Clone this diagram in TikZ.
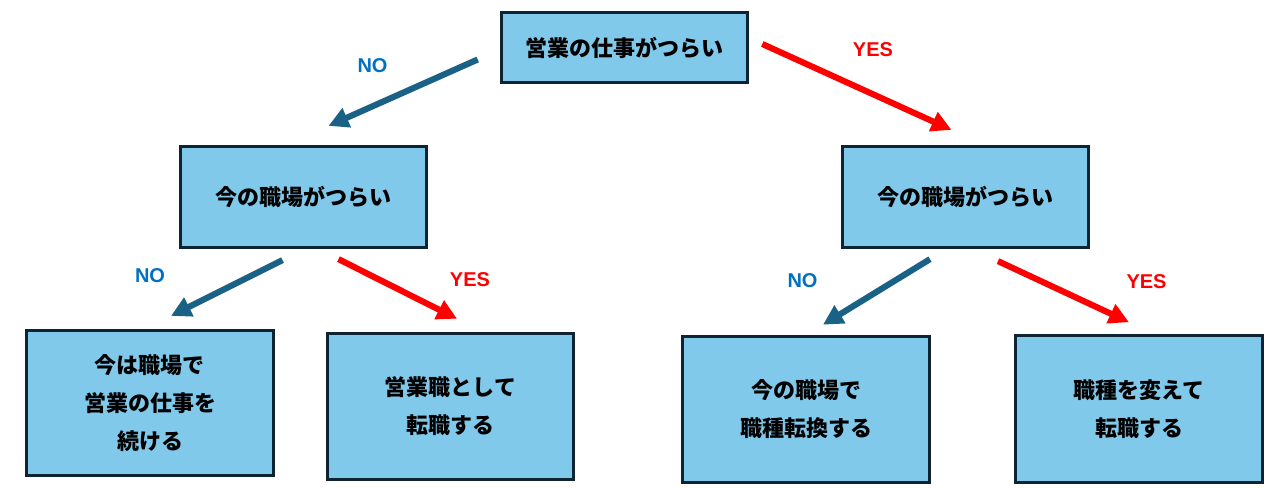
\documentclass[tikz,border=0pt]{standalone}
\usepackage{fontspec}
\setmainfont{Noto Sans CJK JP}
\newfontfamily\labelfont{Liberation Sans}
\usepackage{tikz}
\usetikzlibrary{arrows.meta, calc}
\definecolor{boxfill}{RGB}{128,201,234}
\definecolor{boxline}{RGB}{14,36,50}
\definecolor{noarrow}{RGB}{26,97,134}
\definecolor{notext}{RGB}{0,112,192}
\definecolor{yestext}{RGB}{255,0,0}
\tikzset{
  box/.style={draw=boxline, fill=boxfill, line width=2.2pt, align=center,
    minimum width=185pt, font=\bfseries\fontsize{16.5}{28.5}\selectfont},
  noline/.style={draw=noarrow, line width=4.6pt, -{Triangle[length=15pt,width=15pt]}},
  yesline/.style={draw=yestext, line width=4.6pt, -{Triangle[length=15pt,width=15pt]}},
  nolabel/.style={text=notext, font=\labelfont\bfseries\fontsize{15}{17}\selectfont},
  yeslabel/.style={text=yestext, font=\labelfont\bfseries\fontsize{15}{17}\selectfont}
}
\begin{document}
\begin{tikzpicture}[x=0.75pt,y=0.75pt,yscale=-1,xscale=1]
        \path[use as bounding box] (0,0) rectangle (1279,489);

        % Text Node
        \node[box, minimum height=53pt] (top) at (624.5,47.5) {営業の仕事がつらい};
        % Text Node
        \node[box, minimum height=76pt] (lmid) at (303.5,197) {今の職場がつらい};
        % Text Node
        \node[box, minimum height=76pt] (rmid) at (965.5,197) {今の職場がつらい};
        % Text Node
        \node[box, minimum height=109pt] (stay) at (150,403) {今は職場で\\営業の仕事を\\続ける};
        % Text Node
        \node[box, minimum height=110pt] (sales) at (450.5,406.5) {営業職として\\転職する};
        % Text Node
        \node[box, minimum height=110pt] (transfer) at (806,409.5) {今の職場で\\職種転換する};
        % Text Node
        \node[box, minimum height=110pt] (change) at (1139,409) {職種を変えて\\転職する};

        %Straight Lines
        \draw[noline] ($(top.west)+(-22,12)$) -- ($(lmid.north)+(25,-19)$);
        \draw[yesline] ($(top.east)+(13,-3.5)$) -- ($(rmid.north)+(-14,-15)$);
        \draw[noline] ($(lmid.south)+(-21,11)$) -- ($(stay.north)+(21,-13)$);
        \draw[yesline] ($(lmid.south)+(35,10)$) -- ($(sales.north)+(6.5,-13)$);
        \draw[noline] ($(rmid.south)+(-35.5,10)$) -- ($(transfer.north)+(17,-10)$);
        \draw[yesline] ($(rmid.south)+(32.5,12)$) -- ($(change.north)+(-10,-12)$);

        % Text Node
        \node[nolabel] (no1) at (372.5,65.5) {NO};
        \node[yeslabel] (yes1) at (873,49.5) {YES};
        \node[nolabel] (no2) at (150,275.5) {NO};
        \node[yeslabel] (yes2) at (470,280) {YES};
        \node[nolabel] (no3) at (802.5,280.5) {NO};
        \node[yeslabel] (yes3) at (1146.5,282) {YES};

\end{tikzpicture}
\end{document}
